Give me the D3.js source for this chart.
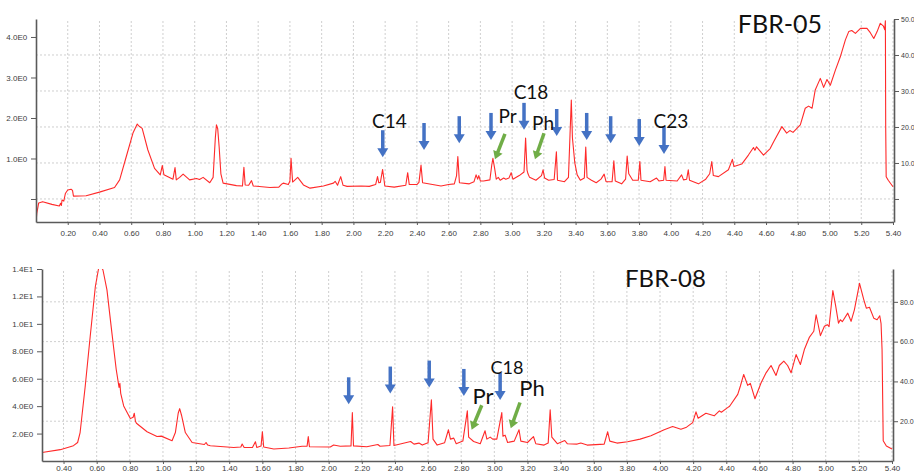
<!DOCTYPE html>
<html><head><meta charset="utf-8">
<script src="https://cdn.jsdelivr.net/npm/d3@7"></script>
<style>
html,body{margin:0;padding:0;background:#fff;}
svg{display:block;}
</style></head>
<body>
<script>
// ---------- DATA (time in min, signal in right-axis units) ----------
const topT = [0.000,0.005,0.017,0.042,0.10,0.147,0.155,0.160,0.164,0.175,0.185,0.20,0.221,0.230,0.236,0.316,0.40,0.495,0.527,0.569,0.611,0.638,0.650,0.669,0.705,0.747,0.783,0.796,0.806,0.863,0.876,0.884,0.905,0.927,0.968,1.011,1.030,1.053,1.095,1.116,1.130,1.137,1.145,1.154,1.165,1.179,1.263,1.301,1.310,1.318,1.340,1.358,1.369,1.474,1.530,1.545,1.558,1.590,1.600,1.607,1.617,1.649,1.685,1.727,1.811,1.874,1.885,1.900,1.920,1.935,1.960,2.050,2.100,2.140,2.152,2.160,2.170,2.184,2.198,2.257,2.330,2.342,2.352,2.400,2.413,2.426,2.436,2.552,2.600,2.636,2.650,2.658,2.668,2.730,2.760,2.773,2.783,2.790,2.800,2.820,2.860,2.872,2.879,2.890,2.900,2.913,2.925,2.947,2.960,2.980,2.994,3.005,3.045,3.075,3.085,3.094,3.100,3.110,3.150,3.185,3.195,3.205,3.230,3.265,3.279,3.286,3.330,3.355,3.365,3.373,3.380,3.395,3.410,3.430,3.455,3.464,3.472,3.500,3.530,3.560,3.580,3.592,3.630,3.641,3.650,3.690,3.715,3.725,3.735,3.760,3.795,3.805,3.812,3.870,3.910,3.925,3.955,3.963,3.970,4.040,4.068,4.080,4.100,4.110,4.118,4.174,4.220,4.245,4.258,4.268,4.300,4.363,4.388,4.398,4.447,4.489,4.521,4.530,4.540,4.584,4.626,4.648,4.700,4.730,4.750,4.770,4.816,4.847,4.868,4.890,4.910,4.942,4.963,4.984,5.005,5.037,5.068,5.100,5.121,5.140,5.163,5.195,5.236,5.257,5.279,5.300,5.320,5.340,5.348,5.352,5.354,5.357,5.370,5.400];
const topV = [-6.4,-4.0,-1.1,-0.75,-1.5,-1.95,-1.2,-1.8,-0.3,-0.6,1.5,2.5,2.7,2.4,0.8,0.9,1.9,3.2,5.3,11.8,18.3,20.8,20.2,19.6,13.6,8.5,6.7,9.3,6.7,5.5,8.7,5.3,6.0,6.9,5.3,5.7,5.4,6.0,4.5,6.0,17.0,20.6,19.5,14.5,7.0,4.4,3.7,3.6,8.8,3.9,3.8,5.1,3.6,3.2,3.3,4.0,4.4,4.0,5.0,11.3,4.7,6.0,3.9,3.0,3.6,4.4,4.9,3.8,6.2,3.8,3.5,3.6,3.5,4.0,6.2,4.5,4.6,8.2,3.6,3.3,3.8,7.3,4.0,4.0,4.6,9.4,4.5,3.6,4.0,4.2,6.5,11.8,4.5,4.2,4.8,6.7,5.5,6.5,5.0,5.0,5.3,9.5,11.3,8.5,5.5,6.0,5.2,5.8,5.5,5.8,7.3,5.5,6.5,7.5,16.9,8.0,7.0,6.0,5.2,6.5,8.1,5.8,5.2,5.4,13.1,5.2,4.8,6.0,18.0,27.5,17.0,10.0,6.7,5.2,5.8,14.4,6.0,5.2,4.5,5.5,6.9,4.8,4.8,10.6,5.0,4.2,5.5,11.9,7.0,5.2,5.2,10.4,5.2,4.8,5.8,5.0,5.2,9.0,5.2,5.0,6.7,5.3,5.5,8.1,5.2,4.2,5.5,7.0,10.4,6.5,6.2,8.1,11.0,9.0,9.7,12.2,14.3,13.5,14.5,12.2,14.0,15.9,20.1,18.3,19.0,18.5,20.6,25.2,25.8,25.2,30.3,33.5,31.0,33.2,31.6,35.8,39.5,44.2,46.5,46.8,46.0,47.4,47.4,46.2,44.6,46.5,48.8,48.0,47.0,49.5,20.0,6.2,5.2,3.4];

const botT = [0.270,0.380,0.460,0.485,0.500,0.531,0.561,0.592,0.611,0.618,0.638,0.662,0.692,0.718,0.735,0.740,0.745,0.763,0.803,0.820,0.827,0.834,0.840,0.904,0.964,0.990,1.055,1.075,1.092,1.101,1.112,1.135,1.176,1.250,1.260,1.270,1.286,1.427,1.470,1.478,1.490,1.540,1.558,1.566,1.592,1.600,1.608,1.669,1.760,1.840,1.870,1.877,1.884,2.010,2.030,2.070,2.135,2.143,2.150,2.230,2.297,2.310,2.370,2.386,2.394,2.495,2.515,2.545,2.565,2.600,2.620,2.630,2.655,2.700,2.723,2.735,2.755,2.770,2.810,2.837,2.845,2.875,2.915,2.944,2.955,2.975,2.990,3.015,3.045,3.052,3.065,3.080,3.120,3.149,3.160,3.200,3.236,3.250,3.300,3.325,3.337,3.347,3.380,3.425,3.440,3.500,3.522,3.560,3.663,3.684,3.697,3.740,3.804,3.880,3.945,4.025,4.076,4.126,4.160,4.197,4.217,4.230,4.277,4.327,4.358,4.370,4.408,4.420,4.469,4.485,4.505,4.529,4.545,4.573,4.610,4.640,4.670,4.700,4.720,4.747,4.770,4.791,4.821,4.847,4.871,4.902,4.928,4.942,4.968,4.992,5.010,5.020,5.043,5.060,5.077,5.088,5.100,5.133,5.153,5.173,5.204,5.230,5.245,5.264,5.290,5.310,5.326,5.334,5.340,5.347,5.366,5.400];
const botV = [4.3,5.7,7.7,9.3,14.3,37.7,62.7,87.7,96.5,99,96,86,64.3,46,37,39,34,27.7,21.3,22,24,20,19,14.7,12.3,12.5,10.2,14.3,24,26.3,23,14.3,9.3,8.3,9.3,8.0,7.7,6.8,7.0,8.5,6.8,6.8,9.7,6.8,7.5,14.7,7.0,6.0,6.5,7.4,7.5,12.3,7.2,7.0,8.0,7.4,7.6,24.3,7.6,7.2,8.3,7.4,7.8,27.2,7.8,9.8,8.5,9.0,8.0,9.2,30.7,11.0,8.0,9.2,15.7,11.0,11.5,8.7,10.0,25.2,12.0,9.8,8.7,15.2,11.0,12.0,11.0,11.0,24.3,12.5,13.0,9.3,10.0,15.7,10.0,9.3,12.3,8.7,8.0,9.0,25.7,12.0,8.7,10.3,8.7,8.5,9.0,8.0,8.5,14.7,10.0,9.0,9.7,11.0,12.7,15.7,17.3,16.0,17.0,19.3,24.7,21.5,24.0,22.7,25.2,24.5,26.8,27.5,33.5,37.7,43.5,38.0,39.0,31.3,39.3,44.3,48.0,43.0,48.0,50.2,48.0,44.3,53.5,48.5,56.0,62.3,65.2,73.5,63.0,67.7,68.5,67.5,85.7,78.0,69.3,71.0,70.0,74.3,70.2,76.0,89.3,81.0,76.8,77.3,71.8,71.0,73.0,69.0,56.0,10.2,7.5,6.0];

// tick labels
const xTicksTop = [0.2,0.4,0.6,0.8,1.0,1.2,1.4,1.6,1.8,2.0,2.2,2.4,2.6,2.8,3.0,3.2,3.4,3.6,3.8,4.0,4.2,4.4,4.6,4.8,5.0,5.2,5.4];
const xTicksBot = [0.4,0.6,0.8,1.0,1.2,1.4,1.6,1.8,2.0,2.2,2.4,2.6,2.8,3.0,3.2,3.4,3.6,3.8,4.0,4.2,4.4,4.6,4.8,5.0,5.2,5.4];
const leftTicksTop = [0,1,2,3,4];
const leftLabelsTop = ["","1.0E0","2.0E0","3.0E0","4.0E0"];
const rightTicksTop = [0,10,20,30,40,50];
const rightLabelsTop = ["","10.0","20.0","30.0","40.0","50.0"];
const leftTicksBot = [2,4,6,8,10,12,14];
const leftLabelsBot = ["2.0E0","4.0E0","6.0E0","8.0E0","1.0E1","1.2E1","1.4E1"];
const rightTicksBot = [20,40,60,80];
const rightLabelsBot = ["20.0","40.0","60.0","80.0"];

// annotations (time, signal) — arrow tips and label anchors
const topBlueT = [2.185,2.445,2.667,2.867,3.075,3.281,3.470,3.621,3.801,3.957];
const topBlueV = [11.6,13.6,15.5,16.4,19.2,17.5,16.4,15.5,14.7,12.5];
const topGreenT0 = [2.955,3.201], topGreenV0 = [18.1,18.25];
const topGreenT1 = [2.892,3.144], topGreenV1 = [11.0,11.0];
const topLabels = ["C14","C18","Pr","Ph","C23"];
const topLabelT = [2.227,3.119,2.971,3.195,4.001];
const topLabelV = [19.8,27.7,21.0,19.2,19.6];
const botBlueT = [2.121,2.372,2.607,2.816,3.035];
const botBlueV = [28.5,33.9,36.9,32.7,30.7];
const botGreenT0 = [2.924,3.155], botGreenV0 = [28.0,29.4];
const botGreenT1 = [2.863,3.099], botGreenV1 = [15.7,16.4];
const botLabels = ["C18","Pr","Ph"];
const botLabelT = [3.076,2.931,3.227];
const botLabelV = [43.5,28.5,32.7];

// ---------- DRAW ----------
const W = 914, H = 473;
const svg = d3.select("body").append("svg").attr("width", W).attr("height", H);

const tickFont = "'Liberation Sans', Arial, sans-serif";
const annFont = "Lato, 'Open Sans', sans-serif";
const axisCol = "#5a5a5a", gridCol = "#cfcfcf", lineCol = "#ff2a2a";
const blue = "#4472c4", green = "#70ad47";

function panel(cfg) {
  const x = d3.scaleLinear().domain(cfg.xDom).range([cfg.x0, cfg.x1]);
  const yR = d3.scaleLinear().domain(cfg.yRDom).range([cfg.yb, cfg.yt]);
  const yL = d3.scaleLinear().domain(cfg.yLDom).range([cfg.yb, cfg.yt]);
  const g = svg.append("g");
  const clipId = "clip" + cfg.id;
  svg.append("clipPath").attr("id", clipId).append("rect")
    .attr("x", cfg.x0).attr("y", cfg.yt).attr("width", cfg.x1 - cfg.x0 + 2).attr("height", cfg.yb - cfg.yt);

  // grid
  g.append("g").selectAll("line").data(cfg.xTicks).join("line")
    .attr("x1", d => x(d)).attr("x2", d => x(d)).attr("y1", cfg.yt + 2).attr("y2", cfg.yb)
    .attr("stroke", gridCol).attr("stroke-dasharray", "2,2");
  g.append("g").selectAll("line").data(cfg.gridR).join("line")
    .attr("x1", cfg.x0).attr("x2", cfg.x1).attr("y1", d => yR(d)).attr("y2", d => yR(d))
    .attr("stroke", gridCol).attr("stroke-dasharray", "2,2");

  // trace
  const data = cfg.T.map((t, i) => [t, cfg.V[i]]);
  g.append("path").datum(data).attr("clip-path", `url(#${clipId})`)
    .attr("d", d3.line().x(d => x(d[0])).y(d => yR(d[1])))
    .attr("fill", "none").attr("stroke", lineCol).attr("stroke-width", 1.1)
    .attr("stroke-linejoin", "round");

  // axes
  const xAxis = d3.axisBottom(x).tickValues(cfg.xTicks).tickFormat(d3.format(".2f")).tickSize(3).tickSizeOuter(0).tickPadding(cfg.xPad);
  const gx = g.append("g").attr("transform", `translate(0,${cfg.yb})`).call(xAxis);
  const lAxis = d3.axisLeft(yL).tickValues(cfg.lTicks).tickFormat((d, i) => cfg.lLabels[i]).tickSize(5).tickSizeOuter(0);
  const gl = g.append("g").attr("transform", `translate(${cfg.x0},0)`).call(lAxis);
  const rAxis = d3.axisRight(yR).tickValues(cfg.rTicks).tickFormat((d, i) => cfg.rLabels[i]).tickSize(5).tickSizeOuter(0).tickPadding(2);
  const gr = g.append("g").attr("transform", `translate(${cfg.x1 + 1},0)`).call(rAxis);
  [gx, gl, gr].forEach(a => {
    a.select(".domain").attr("stroke", axisCol).attr("stroke-width", 1.6);
    a.selectAll(".tick line").attr("stroke", axisCol).attr("stroke-width", 1);
    a.selectAll("text").attr("font-family", tickFont).attr("font-size", 8).attr("fill", "#3c3c3c");
  });
  gr.selectAll("text").attr("font-size", 7);
  gl.selectAll("text").attr("dx", "-0.1em");

  // blue arrows
  const L = 27;
  cfg.blueT.forEach((t, i) => {
    const px = x(t), py = yR(cfg.blueV[i]);
    g.append("line").attr("x1", px).attr("x2", px).attr("y1", py - L).attr("y2", py - 8)
      .attr("stroke", blue).attr("stroke-width", 3.5);
    g.append("path").attr("d", `M${px - 5.5},${py - 9}L${px + 5.5},${py - 9}L${px},${py}Z`).attr("fill", blue);
  });
  // green arrows
  cfg.gT0.forEach((t, i) => {
    const xa = x(t), ya = yR(cfg.gV0[i]), xb = x(cfg.gT1[i]), yb = yR(cfg.gV1[i]);
    const ang = Math.atan2(yb - ya, xb - xa);
    const hl = 8, hw = 5;
    const ux = Math.cos(ang), uy = Math.sin(ang);
    const bx = xb - ux * hl, by = yb - uy * hl;
    g.append("line").attr("x1", xa).attr("y1", ya).attr("x2", bx + ux).attr("y2", by + uy)
      .attr("stroke", green).attr("stroke-width", 3.5);
    g.append("path").attr("d", `M${bx - uy * hw},${by + ux * hw}L${bx + uy * hw},${by - ux * hw}L${xb},${yb}Z`).attr("fill", green);
  });
  // labels
  cfg.labels.forEach((s, i) => {
    g.append("text").attr("x", x(cfg.labelT[i])).attr("y", yR(cfg.labelV[i]))
      .attr("text-anchor", "middle").attr("font-family", annFont)
      .attr("font-size", cfg.labelSize[i]).attr("fill", "#111").text(s);
  });
  g.append("text").attr("x", x(cfg.titleT)).attr("y", yR(cfg.titleV))
    .attr("text-anchor", "middle").attr("font-family", annFont)
    .attr("font-size", cfg.titleSize).attr("fill", "#111").text(cfg.title);
}

panel({
  id: "top", xDom: [0, 5.4], x0: 36, x1: 893,
  yRDom: [-6.4, 50], yLDom: [-0.568, 4.444], yb: 222, yt: 19, xPad: 5,
  xTicks: xTicksTop, gridR: [0, 10, 20, 30, 40],
  lTicks: leftTicksTop, lLabels: leftLabelsTop, rTicks: rightTicksTop, rLabels: rightLabelsTop,
  T: topT, V: topV,
  blueT: topBlueT, blueV: topBlueV,
  gT0: topGreenT0, gV0: topGreenV0, gT1: topGreenT1, gV1: topGreenV1,
  labels: topLabels, labelT: topLabelT, labelV: topLabelV, labelSize: [19, 19, 19, 19, 19],
  title: "FBR-05", titleT: 4.688, titleV: 46.0, titleSize: 25
});

panel({
  id: "bot", xDom: [0.27, 5.4], x0: 42, x1: 892,
  yRDom: [0, 96.5], yLDom: [0, 14], yb: 461, yt: 269, xPad: 1,
  xTicks: xTicksBot, gridR: [20, 40, 60, 80],
  lTicks: leftTicksBot, lLabels: leftLabelsBot, rTicks: rightTicksBot, rLabels: rightLabelsBot,
  T: botT, V: botV,
  blueT: botBlueT, blueV: botBlueV,
  gT0: botGreenT0, gV0: botGreenV0, gT1: botGreenT1, gV1: botGreenV1,
  labels: botLabels, labelT: botLabelT, labelV: botLabelV, labelSize: [18, 22, 22],
  title: "FBR-08", titleT: 4.033, titleV: 87.7, titleSize: 24
});
</script>
</body></html>
